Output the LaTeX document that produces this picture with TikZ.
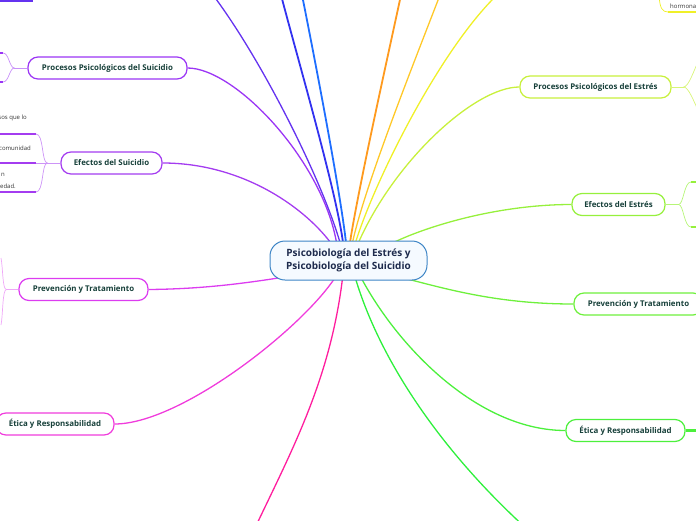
\documentclass[tikz,border=0pt]{standalone}
\usepackage{fontspec}
\setmainfont{Open Sans}
\usetikzlibrary{calc}
\usetikzlibrary{backgrounds}

\definecolor{hubline}{HTML}{3D85C6}
\definecolor{hubfill}{HTML}{F5FAFF}
\definecolor{hubtext}{HTML}{1E2B4D}
\definecolor{topictext}{HTML}{17403A}
\definecolor{notetext}{HTML}{333333}
\definecolor{procsuicol}{HTML}{9B35F5}
\definecolor{efsuicol}{HTML}{A43CF0}
\definecolor{prevsuicol}{HTML}{DC3CF0}
\definecolor{eticsuicol}{HTML}{F03CDC}
\definecolor{offmag}{HTML}{FF1E9E}
\definecolor{offgreen}{HTML}{2EF03C}
\definecolor{eticestcol}{HTML}{4CF03C}
\definecolor{prevestcol}{HTML}{6EF03C}
\definecolor{efestcol}{HTML}{96F03C}
\definecolor{procestcol}{HTML}{C8F03C}
\definecolor{yelcol}{HTML}{F0F028}
\definecolor{goldcol}{HTML}{FFC828}
\definecolor{orngcol}{HTML}{FF9A1E}
\definecolor{lbluecol}{HTML}{1E6EFF}
\definecolor{bluecol}{HTML}{3232F0}
\definecolor{violcol}{HTML}{6432F0}

\tikzset{
  hub/.style={draw=hubline, fill=hubfill, line width=1pt, rounded corners=15pt,
    minimum width=157pt, minimum height=39pt, align=center, text=hubtext,
    font=\fontsize{10}{13}\selectfont\bfseries},
  topic/.style={draw, fill=white, line width=1.2pt, rounded corners=10pt,
    minimum height=22pt, inner xsep=0pt, text=topictext,
    font=\fontsize{7.9}{9}\selectfont\bfseries},
  link/.style={line width=1.3pt},
  thicklink/.style={line width=1.8pt},
  fork/.style={line width=0.7pt},
  underl/.style={line width=2.2pt},
  note/.style={inner sep=0pt, text=notetext, font=\fontsize{6}{7}\selectfont},
}

\begin{document}
\begin{tikzpicture}[x=1pt,y=-1pt]
  \useasboundingbox (0,0) rectangle (696,520);
  \clip (0,0) rectangle (696,520);

  % central topic
  \node[hub] (hub) at (348.5,260.5) {Psicobiología del Estrés y\\Psicobiología del Suicidio};

  % main topics, left
  \node[topic, draw=procsuicol, minimum width=159pt] (procsui) at (107.5,68) {Procesos Psicológicos del Suicidio};
  \node[topic, draw=efsuicol, minimum width=101pt] (efsui) at (111.5,163) {Efectos del Suicidio};
  \node[topic, draw=prevsuicol, minimum width=129pt] (prevsui) at (83.5,289.5) {Prevención y Tratamiento};
  \node[topic, draw=eticsuicol, minimum width=118pt] (eticsui) at (55,424) {Ética y Responsabilidad};

  % main topics, right
  \node[topic, draw=procestcol, minimum width=151pt] (procest) at (595.5,87) {Procesos Psicológicos del Estrés};
  \node[topic, draw=efestcol, minimum width=93pt] (efest) at (618.5,204.5) {Efectos del Estrés};
  \node[topic, draw=prevestcol, minimum width=129pt] (prevest) at (638.5,304) {Prevención y Tratamiento};
  \node[topic, draw=eticestcol, minimum width=119pt] (eticest) at (625.5,430.5) {Ética y Responsabilidad};

  % cut notes at the edges
  \node[note, anchor=east] (notea) at (27,118) {sos que lo};
  \node[note, anchor=east] (noteb) at (31,148) {comunidad};
  \node[note, anchor=east] (notec) at (5,175) {n};
  \node[note, anchor=east] (noted) at (16,186) {edad.};
  \node[note, anchor=west] (notee) at (670,6) {hormonal};

  \begin{pgfonlayer}{background}
    % links to the central topic
    \draw[link, procsuicol] (procsui.east) .. controls (235,68) and (322,160) .. ($(hub.north)+(-12,2)$);
    \draw[link, efsuicol] (efsui.east) .. controls (240,163) and (302,205) .. ($(hub.north)+(-18,2)$);
    \draw[link, prevsuicol] (prevsui.east) .. controls (200,289) and (240,284) .. ($(hub.south west)+(12,-3)$);
    \draw[link, eticsuicol] (eticsui.east) .. controls (180,424) and (300,330) .. ($(hub.south)+(-14,-2)$);
    \draw[link, offmag] ($(hub.south)+(-6,-2)$) .. controls (330,380) and (292,450) .. (254,530);
    \draw[link, offgreen] ($(hub.south)+(7,-2)$) .. controls (380,360) and (440,450) .. (528,530);
    \draw[link, eticestcol] ($(hub.south)+(13,-2)$) .. controls (400,350) and (480,430.5) .. (eticest.west);
    \draw[link, prevestcol] ($(hub.south east)+(-22,-2)$) .. controls (450,290) and (500,304) .. (prevest.west);
    \draw[link, efestcol] ($(hub.north east)+(-34,2)$) .. controls (430,225) and (500,204.5) .. (efest.west);
    \draw[link, procestcol] ($(hub.north)+(10,2)$) .. controls (395,160) and (475,87) .. (procest.west);
    \draw[link, yelcol] ($(hub.north)+(7,2)$) .. controls (375,180) and (440,50) .. (497,-5);
    \draw[link, goldcol] ($(hub.north)+(4,2)$) .. controls (365,185) and (415,60) .. (440,-5);
    \draw[thicklink, orngcol] ($(hub.north)+(1.5,2)$) .. controls (358,190) and (387,60) .. (401,-5);
    \draw[thicklink, lbluecol] ($(hub.north)+(-2.5,2)$) .. controls (340,190) and (315,60) .. (302,-5);
    \draw[thicklink, bluecol] ($(hub.north)+(-5.5,2)$) .. controls (336,190) and (298,60) .. (281,-5);
    \draw[link, violcol] ($(hub.north)+(-8.5,2)$) .. controls (322,180) and (262,60) .. (213,-5);
  \end{pgfonlayer}

  % forks, left side
  \coordinate (procsuifork) at ($(procsui.west)+(-13,0)$);
  \draw[fork, procsuicol!55] (procsui.west) -- (procsuifork);
  \draw[fork, procsuicol!55] (procsuifork) .. controls +(-5,0) and +(6,0) .. (3,53);
  \draw[fork, procsuicol!55] (procsuifork) .. controls +(-5,0) and +(6,0) .. (3,82);
  \draw[underl, procsuicol] (-5,53) -- (3,53);
  \draw[underl, procsuicol] (-5,82) -- (3,82);

  \coordinate (efsuifork) at ($(efsui.west)+(-13,0)$);
  \draw[fork, efsuicol!55] (efsui.west) -- (efsuifork);
  \draw[fork, efsuicol!55] (efsuifork) .. controls +(-6,0) and +(8,0) .. (36,134);
  \draw[fork, efsuicol!55] (efsuifork) -- (36,163);
  \draw[fork, efsuicol!55] (efsuifork) .. controls +(-6,0) and +(8,0) .. (36,192);
  \draw[underl, efsuicol] (-5,134) -- (36,134);
  \draw[underl, efsuicol] (-5,163) -- (36,163);
  \draw[underl, efsuicol] (-5,192) -- (36,192);

  \coordinate (prevsuifork) at ($(prevsui.west)+(-12,0)$);
  \draw[fork, prevsuicol!45] (prevsui.west) -- (prevsuifork);
  \draw[fork, prevsuicol!45] (prevsuifork) .. controls +(-4,0) and +(2,10) .. (1,258);
  \draw[fork, prevsuicol!45] (prevsuifork) .. controls +(-4,0) and +(2,-10) .. (1,325);

  \draw[underl, violcol] (-5,1) -- (33,1);

  % forks, right side
  \coordinate (procestfork) at ($(procest.east)+(12,0)$);
  \draw[fork, procestcol!70] (procest.east) -- (procestfork);
  \draw[fork, procestcol!70] (procestfork) .. controls +(5,0) and +(-4,8) .. (698,62);
  \draw[fork, procestcol!70] (procestfork) .. controls +(5,0) and +(-4,-8) .. (698,110);

  \coordinate (efestfork) at ($(efest.east)+(13,0)$);
  \draw[fork, efestcol!70] (efest.east) -- (efestfork);
  \draw[fork, efestcol!70] (efestfork) .. controls +(5,0) and +(-7,0) .. (691,182);
  \draw[fork, efestcol!70] (efestfork) .. controls +(5,0) and +(-7,0) .. (691,227);
  \draw[underl, efestcol] (691,182) -- (700,182);
  \draw[underl, efestcol] (691,227) -- (700,227);

  \draw[underl, eticestcol] (eticest.east) -- (700,430.5);

  \coordinate (notefork) at (659,-4);
  \draw[fork, yelcol] (notefork) .. controls (660,8) and (662,12) .. (668,12);
  \draw[underl, yelcol] (668,12) -- (700,12);
\end{tikzpicture}
\end{document}
